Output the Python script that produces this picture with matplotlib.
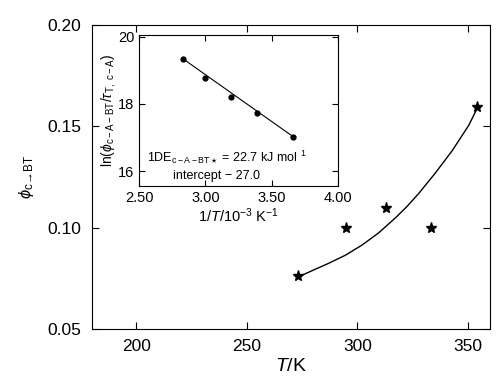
import numpy as np
import matplotlib
matplotlib.use("Agg")
from matplotlib import pyplot as plt

plt.rcParams['font.family'] = ['Liberation Sans', 'DejaVu Sans']
plt.rcParams['mathtext.fontset'] = 'custom'
plt.rcParams['mathtext.rm'] = 'Liberation Sans'
plt.rcParams['mathtext.it'] = 'Liberation Sans:italic'

# main panel: quantum yield vs temperature
temp = [273.3, 295.0, 313.1, 333.5, 354.3]
phi = [0.076, 0.100, 0.1097, 0.100, 0.1595]

# fitted curve
fit_T = [273.3, 280.0, 287.0, 294.6, 302.1, 309.6, 317.2, 322.5, 327.7, 335.3, 342.9, 350.4, 354.2]
fit_phi = [0.0757, 0.0790, 0.0824, 0.0864, 0.0914, 0.0974, 0.1048, 0.1105, 0.1168, 0.1270, 0.1380, 0.1505, 0.1589]

# inset: Arrhenius plot
inv_T = [2.83, 3.00, 3.19, 3.39, 3.66]
ln_ratio = [19.35, 18.77, 18.21, 17.72, 17.02]
line_x = [2.83, 3.66]
line_y = [19.35, 17.03]

fig = plt.figure(figsize=(5.0, 3.91), dpi=100)
ax = fig.add_axes([0.184, 0.1586, 0.796, 0.7774])

ax.plot(fit_T, fit_phi, color='black', lw=1.0)
ax.plot(temp, phi, ls='none', marker='*', ms=8, color='black')
ax.set_xlim(180, 360)
ax.set_ylim(0.05, 0.20)
ax.set_xticks([200, 250, 300, 350])
ax.set_yticks([0.05, 0.10, 0.15, 0.20])
ax.set_yticklabels(['0.05', '0.10', '0.15', '0.20'])
ax.tick_params(direction='in', top=True, right=True, labelsize=12.5, length=5, width=0.8)
ax.tick_params(axis='x', pad=7)
ax.tick_params(axis='y', pad=8)
ax.set_xlabel('$T$/K', fontsize=14, labelpad=3)
ax.set_ylabel(r'$\phi_{\mathrm{c\!\rightarrow\!BT}}$', fontsize=12, labelpad=8)
for s in ax.spines.values():
    s.set_linewidth(0.8)

ins = fig.add_axes([0.278, 0.524, 0.398, 0.386])
ins.plot(line_x, line_y, color='black', lw=0.8)
ins.plot(inv_T, ln_ratio, ls='none', marker='o', ms=3.5, color='black')
ins.set_xlim(2.5, 4.0)
ins.set_ylim(15.55, 20.05)
ins.set_xticks([2.5, 3.0, 3.5, 4.0])
ins.set_xticklabels(['2.50', '3.00', '3.50', '4.00'])
ins.set_yticks([16, 18, 20])
ins.tick_params(direction='in', top=True, right=True, labelsize=10.5, length=4, width=0.8)
ins.set_xlabel(r'1/$T$/10$^{-3}$ K$^{-1}$', fontsize=10.5, labelpad=1)
ins.set_ylabel(r'ln($\phi_{\mathrm{c-A-BT}}$/$\tau_{\mathrm{T,\ c-A}}$)', fontsize=10, labelpad=0)
ins.text(0.04, 0.17, r'1DE$_{\mathrm{c-A-BT}\star}$ = 22.7 kJ mol $^{1}$',
         transform=ins.transAxes, fontsize=9)
ins.text(0.17, 0.05, 'intercept \u2212 27.0', transform=ins.transAxes, fontsize=9)
for s in ins.spines.values():
    s.set_linewidth(0.8)

fig.savefig('out.png', dpi=100)
